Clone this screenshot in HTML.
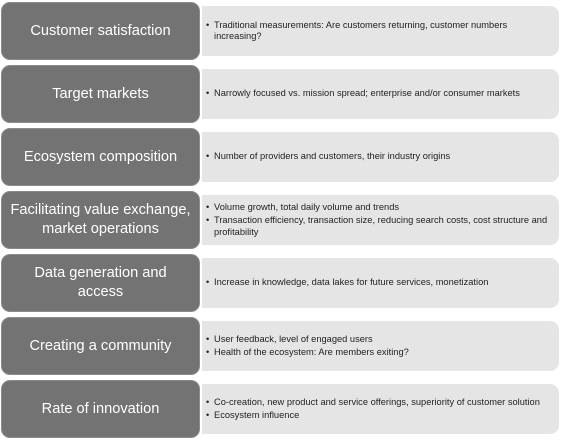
<!DOCTYPE html>
<html><head><style>
body{margin:0;width:561px;height:442px;background:#fff;font-family:"Liberation Sans",sans-serif;position:relative;overflow:hidden}
.d{position:absolute;left:1px;width:199px;height:58px;background:#737373;border-radius:9px;color:#fff;font-size:14.6px;display:flex;align-items:center;justify-content:center;text-align:center;line-height:19px;box-sizing:border-box;border:1px solid #8a8a8a}
.l{position:absolute;left:202px;width:357px;height:50px;background:#e5e5e5;border-radius:0 9px 9px 0;font-size:9.3px;color:#222;display:flex;flex-direction:column;justify-content:center;box-sizing:border-box;padding:0 8px 0 12px;line-height:11.5px}
.l div{position:relative;padding-left:0}
.l div::before{content:"•";position:absolute;left:-8px}
.l div+div{margin-top:2px}
</style></head><body>
<div class="d" style="top:2px">Customer satisfaction</div>
<div class="l" style="top:6px"><div>Traditional measurements: Are customers returning, customer numbers<br>increasing?</div></div>
<div class="d" style="top:65px">Target markets</div>
<div class="l" style="top:69px"><div>Narrowly focused vs. mission spread; enterprise and/or consumer markets</div></div>
<div class="d" style="top:128px">Ecosystem composition</div>
<div class="l" style="top:132px"><div>Number of providers and customers, their industry origins</div></div>
<div class="d" style="top:191px">Facilitating value exchange,<br>market operations</div>
<div class="l" style="top:195px"><div>Volume growth, total daily volume and trends</div><div>Transaction efficiency, transaction size, reducing search costs, cost structure and<br>profitability</div></div>
<div class="d" style="top:254px">Data generation and<br>access</div>
<div class="l" style="top:258px"><div>Increase in knowledge, data lakes for future services, monetization</div></div>
<div class="d" style="top:317px">Creating a community</div>
<div class="l" style="top:321px"><div>User feedback, level of engaged users</div><div>Health of the ecosystem: Are members exiting?</div></div>
<div class="d" style="top:380px">Rate of innovation</div>
<div class="l" style="top:384px"><div>Co-creation, new product and service offerings, superiority of customer solution</div><div>Ecosystem influence</div></div>
</body></html>
